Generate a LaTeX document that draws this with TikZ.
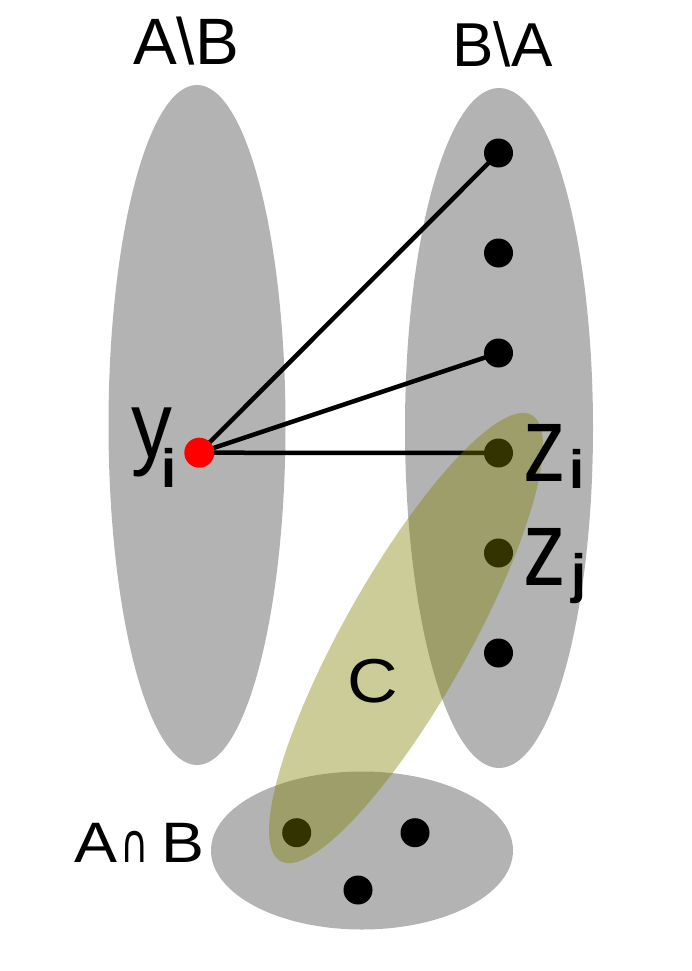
\documentclass[tikz,border=0pt]{standalone}
\usepackage{fontspec}
\usepackage{graphicx}
\setmainfont{Liberation Sans}
\newfontfamily\dejavu{DejaVu Sans}
\definecolor{setgray}{HTML}{B3B3B3}
\definecolor{olivec}{HTML}{808000}
\pgfdeclarelayer{bg}
\pgfsetlayers{bg,main}
\begin{document}
\begin{tikzpicture}[x=1pt,y=-1pt,
  dotnode/.style={circle,fill=black,inner sep=0pt,minimum size=29pt},
  reddot/.style={circle,fill=red,inner sep=0pt,minimum size=30pt},
  edgeline/.style={line width=4.5pt},
  lbl/.style={inner sep=0pt,outer sep=0pt,text=black}]
\useasboundingbox (0,0) rectangle (692,971);
\begin{pgfonlayer}{bg}
\fill[setgray] (197,425) ellipse [x radius=88.5, y radius=340];
\fill[setgray] (499,428) ellipse [x radius=94, y radius=340];
\fill[setgray] (362,850.5) ellipse [x radius=151, y radius=79];
\end{pgfonlayer}
% dots in B\A
\node[dotnode] (b1) at (498.5,153) {};
\node[dotnode] (b2) at (498.5,253) {};
\node[dotnode] (b3) at (498.5,353) {};
\node[dotnode] (zi) at (498.5,453) {};
\node[dotnode] (zj) at (498.5,553) {};
\node[dotnode] (b6) at (498.5,653) {};
% dots in A cap B
\node[dotnode] (c1) at (296.7,832.7) {};
\node[dotnode] (c2) at (415,832.7) {};
\node[dotnode] (c3) at (358,890) {};
% red dot
\node[reddot] (yi) at (199.3,452.7) {};
\begin{pgfonlayer}{bg}
\draw[edgeline] (yi.center) -- (b1.center);
\draw[edgeline] (yi.center) -- (b3.center);
\draw[edgeline] (yi.center) -- (zi.center);
\end{pgfonlayer}
% set C
\fill[olivec, fill opacity=0.4, rotate around={60.6:(406,638)}] (406,638) ellipse [x radius=256, y radius=62.4];
% labels
\node[lbl, anchor=base, font=\fontsize{65.6}{70}\selectfont] (tAB) at (186,65) {A\textbackslash B};
\node[lbl, anchor=base, font=\fontsize{62}{66}\selectfont] (tBA) at (502.5,67) {B\textbackslash A};
\node[lbl, anchor=base west] (ty) at (131.1,457) {\scalebox{0.87}[1]{\fontsize{94}{94}\selectfont y}\kern-10.8pt\raisebox{-30pt}{\fontsize{54}{54}\selectfont\bfseries i}};
\node[lbl, anchor=base west] (tzi) at (523.6,481) {\scalebox{0.79}[1]{\fontsize{108}{108}\selectfont z}\kern2.9pt\raisebox{-7pt}{\fontsize{54}{54}\selectfont\bfseries i}};
\node[lbl, anchor=base west] (tzj) at (523.6,585) {\scalebox{0.79}[1]{\fontsize{108}{108}\selectfont z}\kern5.7pt\raisebox{-7pt}{\fontsize{54}{54}\selectfont\bfseries j}};
\node[lbl, anchor=base] (tC) at (372.5,702) {\scalebox{1.13}[1]{\fontsize{62}{62}\selectfont C}};
\node[lbl, anchor=base west] (tAnB) at (74,862) {\fontsize{57}{57}\selectfont\scalebox{1.13}[1]{A}\kern17.5pt\makebox[0pt]{\scalebox{0.72}[1]{\dejavu\fontsize{54}{54}\selectfont ∩}}\kern26.8pt\scalebox{1.13}[1]{B}};
\end{tikzpicture}
\end{document}
